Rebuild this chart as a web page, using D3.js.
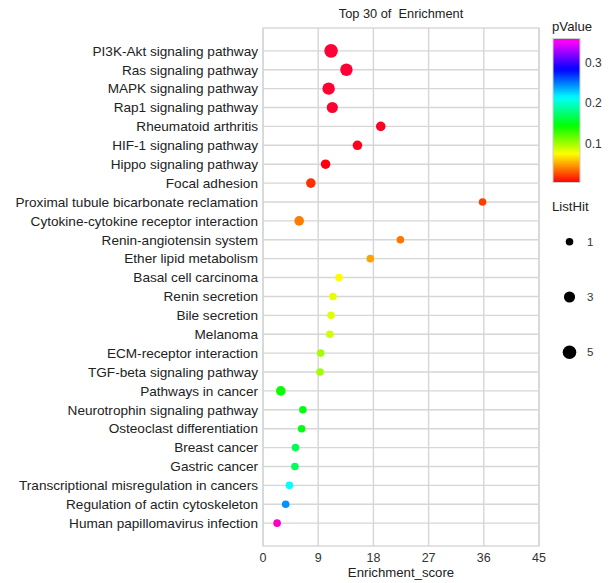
<!DOCTYPE html>
<html>
<head>
<meta charset="utf-8">
<script src="https://cdn.jsdelivr.net/npm/d3@7"></script>
<style>
  body { margin: 0; background: #fff; }
  text { font-family: "Liberation Sans", Arial, Helvetica, sans-serif; white-space: pre; }
</style>
</head>
<body>
<svg id="chart" width="612" height="583"></svg>
<script>
const pathways = [
  "PI3K-Akt signaling pathway",
  "Ras signaling pathway",
  "MAPK signaling pathway",
  "Rap1 signaling pathway",
  "Rheumatoid arthritis",
  "HIF-1 signaling pathway",
  "Hippo signaling pathway",
  "Focal adhesion",
  "Proximal tubule bicarbonate reclamation",
  "Cytokine-cytokine receptor interaction",
  "Renin-angiotensin system",
  "Ether lipid metabolism",
  "Basal cell carcinoma",
  "Renin secretion",
  "Bile secretion",
  "Melanoma",
  "ECM-receptor interaction",
  "TGF-beta signaling pathway",
  "Pathways in cancer",
  "Neurotrophin signaling pathway",
  "Osteoclast differentiation",
  "Breast cancer",
  "Gastric cancer",
  "Transcriptional misregulation in cancers",
  "Regulation of actin cytoskeleton",
  "Human papillomavirus infection"
];
const enrichmentScore = [11.1, 13.6, 10.7, 11.3, 19.2, 15.4, 10.2, 7.8, 35.8, 5.9,
  22.4, 17.5, 12.4, 11.4, 11.1, 10.9, 9.4, 9.3, 2.9, 6.5,
  6.3, 5.3, 5.2, 4.3, 3.7, 2.3];
const pValue = [0.0003, 0.0004, 0.0006, 0.0008, 0.0015, 0.002, 0.003, 0.017, 0.021, 0.038,
  0.036, 0.048, 0.073, 0.080, 0.082, 0.087, 0.099, 0.100, 0.141, 0.148,
  0.149, 0.166, 0.168, 0.213, 0.243, 0.365];
const listHit = [5, 4, 4, 3, 2, 2, 2, 2, 1, 2,
  1, 1, 1, 1, 1, 1, 1, 1, 2, 1,
  1, 1, 1, 1, 1, 1];
const xTicks = [0, 9, 18, 27, 36, 45];
const pTicks = [0.1, 0.2, 0.3];
const sizeBreaks = [1, 3, 5];

const data = pathways.map((d, i) => ({
  name: d, x: enrichmentScore[i], p: pValue[i], n: listHit[i]
}));

const svg = d3.select("#chart");
const panel = { left: 263, right: 539, top: 28, bottom: 546 };
const gridColor = "#d6d6d6";

const x = d3.scaleLinear().domain([0, 45]).range([panel.left, panel.right]);
const y = d3.scalePoint().domain(pathways).range([panel.top, panel.bottom]).padding(1.21);
const hue = d3.scaleLinear().domain([0, 0.004, 0.353, 0.37]).range([-14, 0, 300, 320]);
const color = p => d3.hsl(hue(p), 1, 0.5).formatHex();
const r = d3.scaleSqrt().domain([1, 5]).range([3.8, 6.8]);

// grid
const g = svg.append("g");
g.selectAll("line.h").data(pathways).join("line")
  .attr("x1", panel.left).attr("x2", panel.right)
  .attr("y1", d => y(d)).attr("y2", d => y(d))
  .attr("stroke", gridColor).attr("stroke-width", 1.4);
g.selectAll("line.v").data(xTicks).join("line")
  .attr("x1", d => x(d)).attr("x2", d => x(d))
  .attr("y1", panel.top).attr("y2", panel.bottom)
  .attr("stroke", gridColor).attr("stroke-width", 1.4);
g.append("rect").attr("x", panel.left).attr("y", panel.top)
  .attr("width", panel.right - panel.left).attr("height", panel.bottom - panel.top)
  .attr("fill", "none").attr("stroke", gridColor).attr("stroke-width", 1.4);

// points
svg.append("g").selectAll("circle").data(data).join("circle")
  .attr("cx", d => x(d.x)).attr("cy", d => y(d.name))
  .attr("r", d => r(d.n)).attr("fill", d => color(d.p));

// y axis labels
svg.append("g").selectAll("text").data(pathways).join("text")
  .attr("x", panel.left - 5).attr("y", d => y(d)).attr("dy", "0.35em")
  .attr("text-anchor", "end").attr("font-size", 13.6).attr("fill", "#222")
  .text(d => d);

// x axis labels
svg.append("g").selectAll("text").data(xTicks).join("text")
  .attr("x", d => x(d)).attr("y", 562).attr("text-anchor", "middle")
  .attr("font-size", 12.5).attr("fill", "#333").text(d => d);
svg.append("text").attr("x", (panel.left + panel.right) / 2).attr("y", 577)
  .attr("text-anchor", "middle").attr("font-size", 13.2).attr("fill", "#222")
  .text("Enrichment_score");

// title
svg.append("text").attr("x", (panel.left + panel.right) / 2).attr("y", 18)
  .attr("text-anchor", "middle").attr("font-size", 12.8).attr("fill", "#222")
  .text("Top 30 of  Enrichment");

// colour legend
const cb = { x: 553, w: 27, top: 38.5, bottom: 182.5 };
const pScale = d3.scaleLinear().domain([0.003, 0.36]).range([cb.bottom, cb.top]);
svg.append("text").attr("x", 552).attr("y", 31).attr("font-size", 13.2).attr("fill", "#222").text("pValue");
const defs = svg.append("defs");
const grad = defs.append("linearGradient").attr("id", "pgrad")
  .attr("x1", 0).attr("y1", 1).attr("x2", 0).attr("y2", 0);
d3.range(0, 41).forEach(i => {
  const p = 0.003 + (0.36 - 0.003) * i / 40;
  grad.append("stop").attr("offset", i / 40).attr("stop-color", color(p));
});
svg.append("rect").attr("x", cb.x).attr("y", cb.top).attr("width", cb.w)
  .attr("height", cb.bottom - cb.top).attr("fill", "url(#pgrad)")
  .attr("stroke", "#cfcfcf").attr("stroke-width", 1);
svg.append("g").selectAll("text").data(pTicks).join("text")
  .attr("x", 585).attr("y", d => pScale(d)).attr("dy", "0.35em")
  .attr("font-size", 12).attr("fill", "#333").text(d => d);

// size legend
svg.append("text").attr("x", 552).attr("y", 211).attr("font-size", 13.2).attr("fill", "#222").text("ListHit");
const sizeY = d3.scalePoint().domain(sizeBreaks).range([241.7, 352.3]);
svg.append("g").selectAll("circle").data(sizeBreaks).join("circle")
  .attr("cx", 569.5).attr("cy", d => sizeY(d)).attr("r", d => r(d)).attr("fill", "#000");
svg.append("g").selectAll("text").data(sizeBreaks).join("text")
  .attr("x", 587).attr("y", d => sizeY(d)).attr("dy", "0.35em")
  .attr("font-size", 11.5).attr("fill", "#333").text(d => d);
</script>
</body>
</html>
